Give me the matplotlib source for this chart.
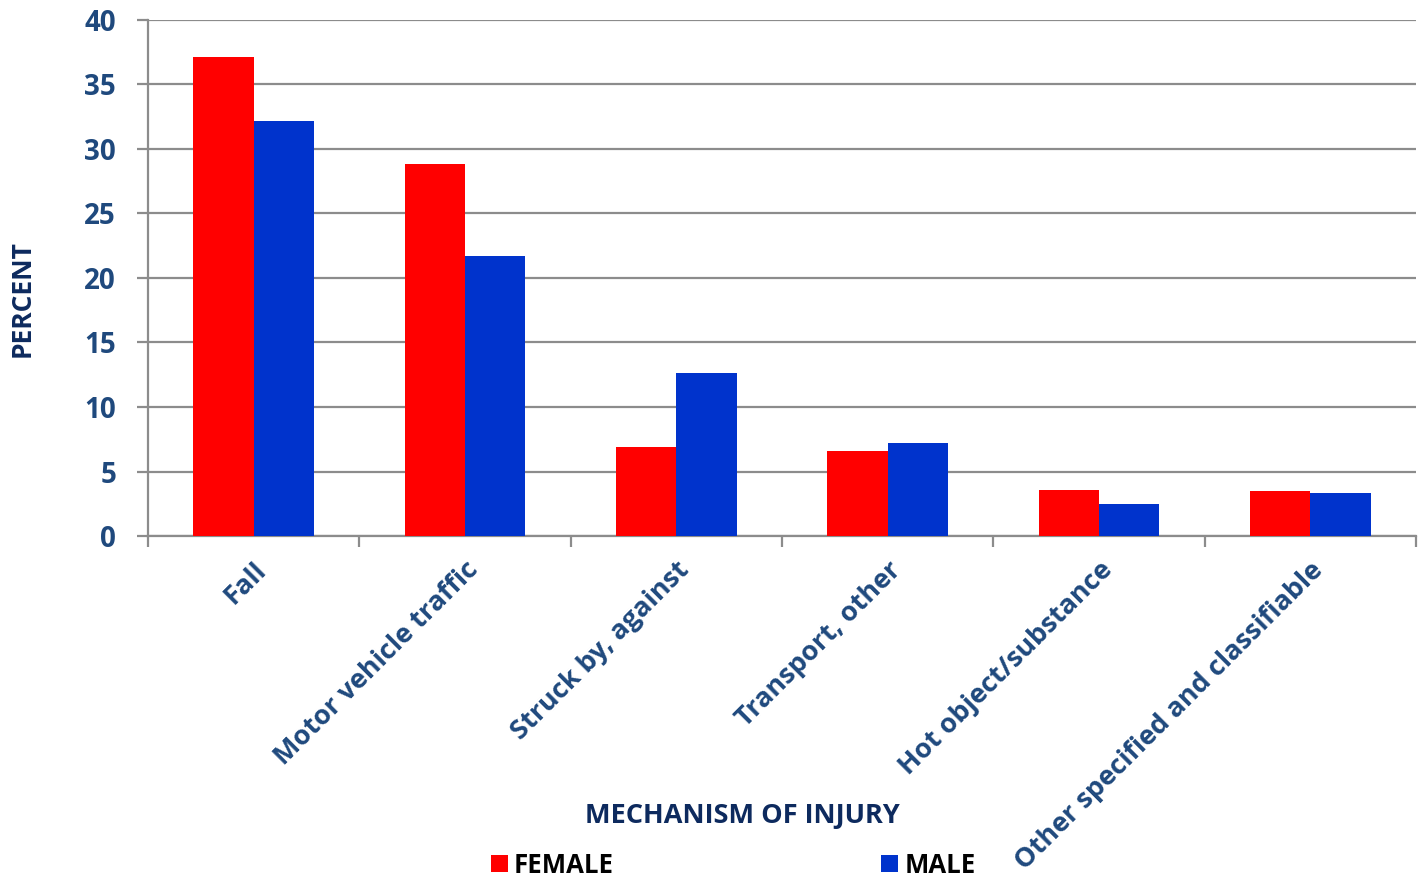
import numpy as np
import matplotlib.pyplot as plt

# data
categories = ["Fall", "Motor vehicle traffic", "Struck by, against",
              "Transport, other", "Hot object/substance",
              "Other specified and classifiable"]
female = [37.1, 28.8, 6.9, 6.6, 3.6, 3.5]
male = [32.2, 21.7, 12.6, 7.2, 2.5, 3.3]

navy = "#1F497D"
dark = "#0D2A5E"

plt.rcParams['font.family'] = ['Open Sans', 'DejaVu Sans']

fig = plt.figure(figsize=(14.22, 8.8), dpi=100)
ax = fig.add_axes([0.1041, 0.3909, 0.8917, 0.5864])

x = np.arange(len(categories))
w = 0.285
b1 = ax.bar(x - w/2, female, w, color="#FF0000", label="FEMALE", zorder=3)
b2 = ax.bar(x + w/2, male, w, color="#0033CC", label="MALE", zorder=3)

ax.set_xlim(-0.5, len(categories) - 0.5)
ax.set_ylim(0, 40)
ax.set_yticks(range(0, 41, 5))
ax.yaxis.grid(True, color="#8C8C8C", linewidth=1.6, zorder=0)
ax.set_axisbelow(True)

# category boundaries as ticks, labels at centres
ax.set_xticks(np.arange(-0.5, len(categories)), minor=False)
ax.set_xticklabels([])
ax.set_xticks(x, minor=True)
ax.set_xticklabels(categories, minor=True, rotation=45, ha='right',
                   rotation_mode='anchor', fontsize=19.5, fontweight='bold',
                   color=navy)
ax.tick_params(axis='x', which='minor', length=0, pad=15)
ax.tick_params(axis='x', which='major', length=8, width=1.6,
               color="#8C8C8C", direction='out')
ax.tick_params(axis='y', length=8, width=1.6, color="#8C8C8C",
               labelsize=20, labelcolor=navy, pad=15)
for lab in ax.get_yticklabels():
    lab.set_fontweight('bold')

for s in ['top', 'right']:
    ax.spines[s].set_visible(False)
for s in ['left', 'bottom']:
    ax.spines[s].set_color("#8C8C8C")
    ax.spines[s].set_linewidth(1.6)

ax.set_ylabel("PERCENT", fontsize=19, fontweight='bold', color=dark)
ax.yaxis.set_label_coords(-0.089, 0.461)

fig.text(0.522, 0.073, "MECHANISM OF INJURY", ha='center', va='center',
         fontsize=19.5, fontweight='bold', color=dark)

fig.legend(handles=[b1, b2], labels=["FEMALE", "MALE"], ncol=2,
           loc='center left', bbox_to_anchor=(0.329, 0.017), frameon=False,
           handlelength=0.65, handleheight=0.65, handletextpad=0.25,
           columnspacing=10.4, prop={'size': 18.5, 'weight': 'bold'})

fig.savefig("out.png", dpi=100)
